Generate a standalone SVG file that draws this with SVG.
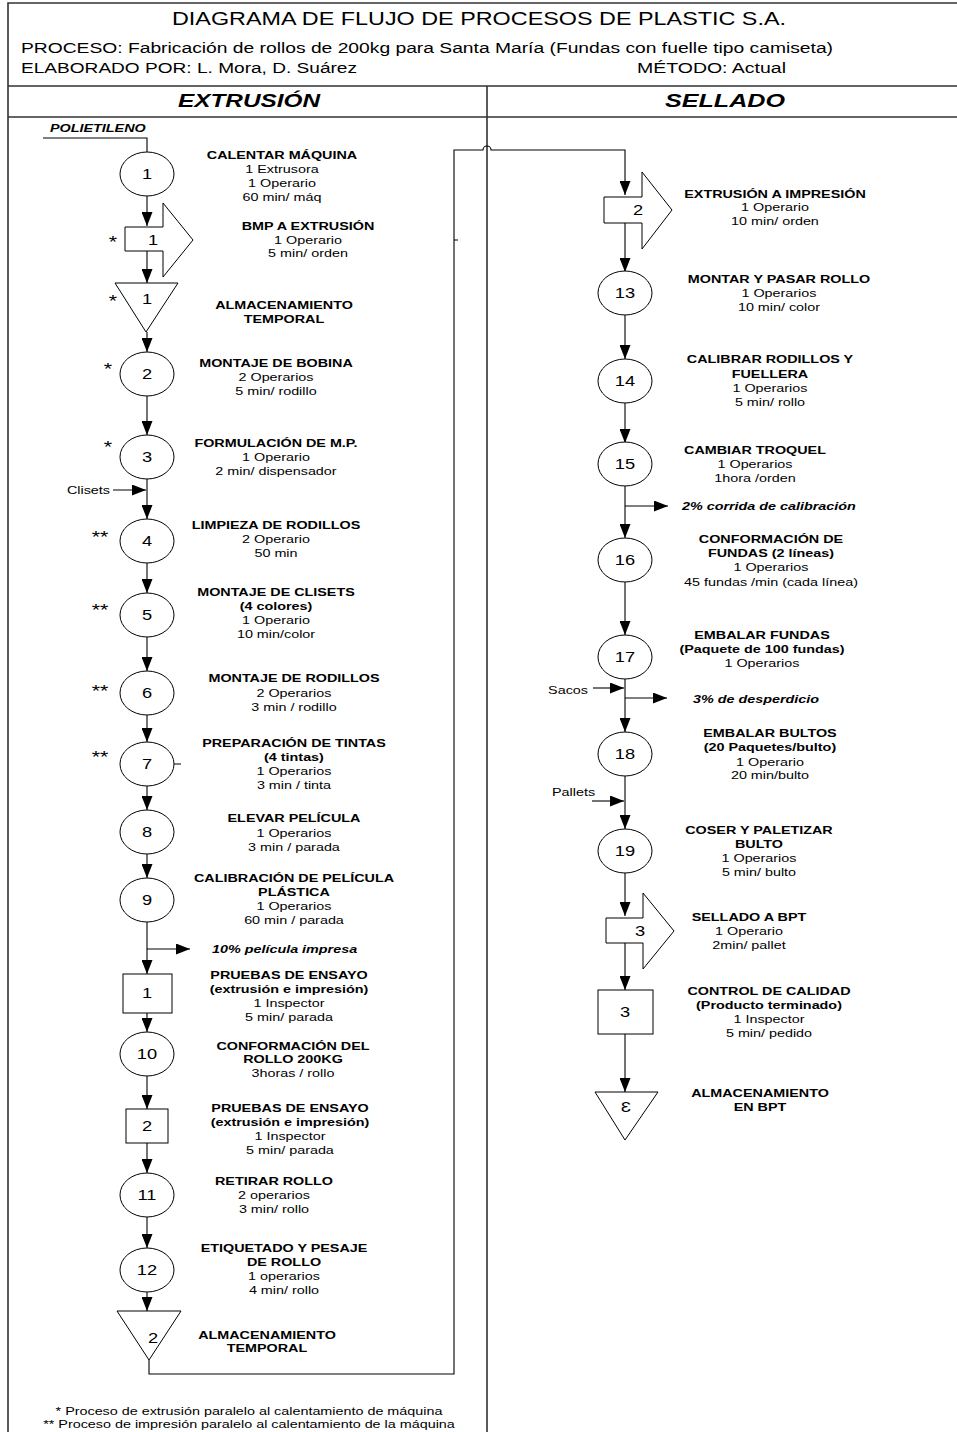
<svg xmlns="http://www.w3.org/2000/svg" width="957" height="1432" viewBox="0 0 957 1432">
<style>
.s{fill:#fff;stroke:#000;stroke-width:1}
.c{fill:none;stroke:#000;stroke-width:1.1}
.f{fill:none;stroke:#333;stroke-width:1.6}
text{font-family:"Liberation Sans",Arial,sans-serif;fill:#000}
.b{font-size:11.4px;font-weight:bold;text-anchor:middle}
.r{font-size:11.4px;text-anchor:middle}
.n{font-size:14.5px;text-anchor:middle}
.bi{font-size:11.4px;font-weight:bold;font-style:italic}
.a{font-size:17px;text-anchor:middle}
.sm{font-size:11.4px}
</style>
<defs>
<marker id="ah" markerUnits="userSpaceOnUse" markerWidth="14" markerHeight="11" refX="14" refY="5.5" orient="auto">
<path d="M0,0 L14,5.5 L0,11 z" fill="#000"/>
</marker>
</defs>
<rect width="957" height="1432" fill="#fff"/>
<g id="frame">
<path class="f" d="M8,1432 V3 H960 M8,86 H960 M8,117 H960 M487,86 V1432"/>
<text x="172" y="25" font-size="18.5" textLength="614" lengthAdjust="spacingAndGlyphs">DIAGRAMA DE FLUJO DE PROCESOS DE PLASTIC S.A.</text>
<text x="21" y="53" font-size="14" textLength="812" lengthAdjust="spacingAndGlyphs">PROCESO: Fabricación de rollos de 200kg para Santa María (Fundas con fuelle tipo camiseta)</text>
<text x="21" y="73" font-size="14" textLength="336" lengthAdjust="spacingAndGlyphs">ELABORADO POR: L. Mora, D. Suárez</text>
<text x="637" y="73" font-size="14" textLength="149" lengthAdjust="spacingAndGlyphs">MÉTODO: Actual</text>
<text x="178" y="107" font-size="18.5" font-weight="bold" font-style="italic" textLength="142" lengthAdjust="spacingAndGlyphs">EXTRUSIÓN</text>
<text x="665" y="107" font-size="18.5" font-weight="bold" font-style="italic" textLength="120" lengthAdjust="spacingAndGlyphs">SELLADO</text>
</g>
<g id="connectors" class="c">
<path d="M43,138 H147 V152"/>
<path d="M147,196 V226" marker-end="url(#ah)"/>
<path d="M147,251 V283" marker-end="url(#ah)"/>
<path d="M147,332 V352" marker-end="url(#ah)"/>
<path d="M147,396 V435" marker-end="url(#ah)"/>
<path d="M147,479 V519" marker-end="url(#ah)"/>
<path d="M113,490 H146" marker-end="url(#ah)"/>
<path d="M147,563 V593" marker-end="url(#ah)"/>
<path d="M147,637 V671" marker-end="url(#ah)"/>
<path d="M147,715 V742" marker-end="url(#ah)"/>
<path d="M147,786 V810" marker-end="url(#ah)"/>
<path d="M147,854 V878" marker-end="url(#ah)"/>
<path d="M147,922 V974" marker-end="url(#ah)"/>
<path d="M147,949 H190" marker-end="url(#ah)"/>
<path d="M147,1013 V1032" marker-end="url(#ah)"/>
<path d="M147,1076 V1109" marker-end="url(#ah)"/>
<path d="M147,1143 V1173" marker-end="url(#ah)"/>
<path d="M147,1217 V1248" marker-end="url(#ah)"/>
<path d="M147,1292 V1311" marker-end="url(#ah)"/>
<path d="M149,1360 V1374 H454 V150 H483 A4,4 0 0 1 491,150 H625 V195" marker-end="url(#ah)"/>
<path d="M174,764 H181 M454,240 H458"/>
<path d="M625,223 V272" marker-end="url(#ah)"/>
<path d="M625,315 V359" marker-end="url(#ah)"/>
<path d="M625,403 V443" marker-end="url(#ah)"/>
<path d="M625,486 V538" marker-end="url(#ah)"/>
<path d="M625,506 H668" marker-end="url(#ah)"/>
<path d="M625,582 V635" marker-end="url(#ah)"/>
<path d="M625,679 V732" marker-end="url(#ah)"/>
<path d="M593,688 H624" marker-end="url(#ah)"/>
<path d="M625,698 H667" marker-end="url(#ah)"/>
<path d="M625,776 V829" marker-end="url(#ah)"/>
<path d="M592,801 H624" marker-end="url(#ah)"/>
<path d="M625,873 V916" marker-end="url(#ah)"/>
<path d="M625,943 V990" marker-end="url(#ah)"/>
<path d="M625,1034 V1092" marker-end="url(#ah)"/>
</g>
<g id="side-labels" transform="scale(1.26 1)">
<text class="bi" x="39.7" y="132">POLIETILENO</text>
<text class="sm" x="87.3" y="494" text-anchor="end">Clisets</text>
<text class="bi" x="168.25" y="953">10% película impresa</text>
<text class="bi" x="541.27" y="510">2% corrida de calibración</text>
<text class="sm" x="466.67" y="694" text-anchor="end">Sacos</text>
<text class="bi" x="550" y="703">3% de desperdicio</text>
<text class="sm" x="438.1" y="796">Pallets</text>
<text class="a" x="89.68" y="248">*</text>
<text class="a" x="89.68" y="307">*</text>
<text class="a" x="85.71" y="375">*</text>
<text class="a" x="85.71" y="453">*</text>
<text class="a" x="79.37" y="543">**</text>
<text class="a" x="79.37" y="616">**</text>
<text class="a" x="79.37" y="697">**</text>
<text class="a" x="79.37" y="763">**</text>
<text class="r" x="197.62" y="1415">* Proceso de extrusión paralelo al calentamiento de máquina</text>
<text class="r" x="197.62" y="1428">** Proceso de impresión paralelo al calentamiento de la máquina</text>
</g>
<g id="n1"><ellipse class="s" cx="147" cy="174" rx="27" ry="22"/>
<g transform="scale(1.26 1)"><text class="n" x="116.67" y="179">1</text>
<text class="b" x="223.81" y="159">CALENTAR MÁQUINA</text><text class="r" x="223.81" y="173">1 Extrusora</text><text class="r" x="223.81" y="187">1 Operario</text><text class="r" x="223.81" y="201">60 min/ máq</text></g></g>
<g id="t1"><polygon class="s" points="125,227 163,227 163,203 193,240 163,277 163,251 125,251"/>
<g transform="scale(1.26 1)"><text class="n" x="121.43" y="245">1</text>
<text class="b" x="244.44" y="230">BMP A EXTRUSIÓN</text><text class="r" x="244.44" y="244">1 Operario</text><text class="r" x="244.44" y="257">5 min/ orden</text></g></g>
<g id="s1"><polygon class="s" points="115,283 178,283 146,332"/>
<g transform="scale(1.26 1)"><text class="n" x="116.67" y="304">1</text>
<text class="b" x="225.4" y="309">ALMACENAMIENTO</text><text class="b" x="225.4" y="323">TEMPORAL</text></g></g>
<g id="n2"><ellipse class="s" cx="147" cy="374" rx="27" ry="22"/>
<g transform="scale(1.26 1)"><text class="n" x="116.67" y="379">2</text>
<text class="b" x="219.05" y="367">MONTAJE DE BOBINA</text><text class="r" x="219.05" y="381">2 Operarios</text><text class="r" x="219.05" y="395">5  min/ rodillo</text></g></g>
<g id="n3"><ellipse class="s" cx="147" cy="457" rx="27" ry="22"/>
<g transform="scale(1.26 1)"><text class="n" x="116.67" y="462">3</text>
<text class="b" x="219.05" y="447">FORMULACIÓN DE M.P.</text><text class="r" x="219.05" y="461">1 Operario</text><text class="r" x="219.05" y="475">2 min/ dispensador</text></g></g>
<g id="n4"><ellipse class="s" cx="147" cy="541" rx="27" ry="22"/>
<g transform="scale(1.26 1)"><text class="n" x="116.67" y="546">4</text>
<text class="b" x="219.05" y="529">LIMPIEZA DE RODILLOS</text><text class="r" x="219.05" y="543">2 Operario</text><text class="r" x="219.05" y="557">50 min</text></g></g>
<g id="n5"><ellipse class="s" cx="147" cy="615" rx="27" ry="22"/>
<g transform="scale(1.26 1)"><text class="n" x="116.67" y="620">5</text>
<text class="b" x="219.05" y="596">MONTAJE DE CLISETS</text><text class="b" x="219.05" y="610">(4 colores)</text><text class="r" x="219.05" y="624">1 Operario</text><text class="r" x="219.05" y="638">10 min/color</text></g></g>
<g id="n6"><ellipse class="s" cx="147" cy="693" rx="27" ry="22"/>
<g transform="scale(1.26 1)"><text class="n" x="116.67" y="698">6</text>
<text class="b" x="233.33" y="682">MONTAJE DE RODILLOS</text><text class="r" x="233.33" y="697">2 Operarios</text><text class="r" x="233.33" y="711">3 min / rodillo</text></g></g>
<g id="n7"><ellipse class="s" cx="147" cy="764" rx="27" ry="22"/>
<g transform="scale(1.26 1)"><text class="n" x="116.67" y="769">7</text>
<text class="b" x="233.33" y="747">PREPARACIÓN DE TINTAS</text><text class="b" x="233.33" y="761">(4 tintas)</text><text class="r" x="233.33" y="775">1 Operarios</text><text class="r" x="233.33" y="789">3 min / tinta</text></g></g>
<g id="n8"><ellipse class="s" cx="147" cy="832" rx="27" ry="22"/>
<g transform="scale(1.26 1)"><text class="n" x="116.67" y="837">8</text>
<text class="b" x="233.33" y="822">ELEVAR PELÍCULA</text><text class="r" x="233.33" y="837">1 Operarios</text><text class="r" x="233.33" y="851">3 min / parada</text></g></g>
<g id="n9"><ellipse class="s" cx="147" cy="900" rx="27" ry="22"/>
<g transform="scale(1.26 1)"><text class="n" x="116.67" y="905">9</text>
<text class="b" x="233.33" y="882">CALIBRACIÓN DE PELÍCULA</text><text class="b" x="233.33" y="896">PLÁSTICA</text><text class="r" x="233.33" y="910">1 Operarios</text><text class="r" x="233.33" y="924">60 min / parada</text></g></g>
<g id="q1"><rect class="s" x="123" y="974" width="49" height="39"/>
<g transform="scale(1.26 1)"><text class="n" x="116.67" y="998">1</text>
<text class="b" x="229.37" y="979">PRUEBAS DE ENSAYO</text><text class="b" x="229.37" y="993">(extrusión e impresión)</text><text class="r" x="229.37" y="1007">1 Inspector</text><text class="r" x="229.37" y="1021">5 min/ parada</text></g></g>
<g id="n10"><ellipse class="s" cx="147" cy="1054" rx="27" ry="22"/>
<g transform="scale(1.26 1)"><text class="n" x="116.67" y="1059">10</text>
<text class="b" x="232.54" y="1050">CONFORMACIÓN DEL</text><text class="b" x="232.54" y="1063">ROLLO 200KG</text><text class="r" x="232.54" y="1077">3horas / rollo</text></g></g>
<g id="q2"><rect class="s" x="126" y="1109" width="42" height="34"/>
<g transform="scale(1.26 1)"><text class="n" x="116.67" y="1131">2</text>
<text class="b" x="230.16" y="1112">PRUEBAS DE ENSAYO</text><text class="b" x="230.16" y="1126">(extrusión e impresión)</text><text class="r" x="230.16" y="1140">1 Inspector</text><text class="r" x="230.16" y="1154">5 min/ parada</text></g></g>
<g id="n11"><ellipse class="s" cx="147" cy="1195" rx="27" ry="22"/>
<g transform="scale(1.26 1)"><text class="n" x="116.67" y="1200">11</text>
<text class="b" x="217.46" y="1185">RETIRAR ROLLO</text><text class="r" x="217.46" y="1199">2 operarios</text><text class="r" x="217.46" y="1213">3 min/ rollo</text></g></g>
<g id="n12"><ellipse class="s" cx="147" cy="1270" rx="27" ry="22"/>
<g transform="scale(1.26 1)"><text class="n" x="116.67" y="1275">12</text>
<text class="b" x="225.4" y="1252">ETIQUETADO Y PESAJE</text><text class="b" x="225.4" y="1266">DE ROLLO</text><text class="r" x="225.4" y="1280">1 operarios</text><text class="r" x="225.4" y="1294">4 min/ rollo</text></g></g>
<g id="s2"><polygon class="s" points="117,1311 181,1311 149,1360"/>
<g transform="scale(1.26 1)"><text class="n" x="121.43" y="1343">2</text>
<text class="b" x="211.9" y="1339">ALMACENAMIENTO</text><text class="b" x="211.9" y="1352">TEMPORAL</text></g></g>
<g id="t2"><polygon class="s" points="604,197 642,197 642,172 672,210 642,249 642,223 604,223"/>
<g transform="scale(1.26 1)"><text class="n" x="506.35" y="215">2</text>
<text class="b" x="615.08" y="198">EXTRUSIÓN A IMPRESIÓN</text><text class="r" x="615.08" y="211">1 Operario</text><text class="r" x="615.08" y="225">10 min/ orden</text></g></g>
<g id="n13"><ellipse class="s" cx="625" cy="293" rx="27" ry="22"/>
<g transform="scale(1.26 1)"><text class="n" x="496.03" y="298">13</text>
<text class="b" x="618.25" y="283">MONTAR Y PASAR ROLLO</text><text class="r" x="618.25" y="297">1 Operarios</text><text class="r" x="618.25" y="311">10  min/ color</text></g></g>
<g id="n14"><ellipse class="s" cx="625" cy="381" rx="27" ry="22"/>
<g transform="scale(1.26 1)"><text class="n" x="496.03" y="386">14</text>
<text class="b" x="611.11" y="363">CALIBRAR RODILLOS Y</text><text class="b" x="611.11" y="378">FUELLERA</text><text class="r" x="611.11" y="392">1 Operarios</text><text class="r" x="611.11" y="406">5  min/ rollo</text></g></g>
<g id="n15"><ellipse class="s" cx="625" cy="464" rx="27" ry="22"/>
<g transform="scale(1.26 1)"><text class="n" x="496.03" y="469">15</text>
<text class="b" x="599.21" y="454">CAMBIAR TROQUEL</text><text class="r" x="599.21" y="468">1 Operarios</text><text class="r" x="599.21" y="482">1hora /orden</text></g></g>
<g id="n16"><ellipse class="s" cx="625" cy="560" rx="27" ry="22"/>
<g transform="scale(1.26 1)"><text class="n" x="496.03" y="565">16</text>
<text class="b" x="611.9" y="543">CONFORMACIÓN DE</text><text class="b" x="611.9" y="557">FUNDAS (2 líneas)</text><text class="r" x="611.9" y="571">1 Operarios</text><text class="r" x="611.9" y="586">45 fundas /min (cada línea)</text></g></g>
<g id="n17"><ellipse class="s" cx="625" cy="657" rx="27" ry="22"/>
<g transform="scale(1.26 1)"><text class="n" x="496.03" y="662">17</text>
<text class="b" x="604.76" y="639">EMBALAR FUNDAS</text><text class="b" x="604.76" y="653">(Paquete de 100 fundas)</text><text class="r" x="604.76" y="667">1 Operarios</text></g></g>
<g id="n18"><ellipse class="s" cx="625" cy="754" rx="27" ry="22"/>
<g transform="scale(1.26 1)"><text class="n" x="496.03" y="759">18</text>
<text class="b" x="611.11" y="737">EMBALAR BULTOS</text><text class="b" x="611.11" y="751">(20 Paquetes/bulto)</text><text class="r" x="611.11" y="766">1 Operario</text><text class="r" x="611.11" y="779">20 min/bulto</text></g></g>
<g id="n19"><ellipse class="s" cx="625" cy="851" rx="27" ry="22"/>
<g transform="scale(1.26 1)"><text class="n" x="496.03" y="856">19</text>
<text class="b" x="602.38" y="834">COSER Y PALETIZAR</text><text class="b" x="602.38" y="848">BULTO</text><text class="r" x="602.38" y="862">1 Operarios</text><text class="r" x="602.38" y="876">5 min/ bulto</text></g></g>
<g id="t3"><polygon class="s" points="606,918 643,918 643,893 674,931 643,969 643,943 606,943"/>
<g transform="scale(1.26 1)"><text class="n" x="507.94" y="936">3</text>
<text class="b" x="594.44" y="921">SELLADO A BPT</text><text class="r" x="594.44" y="935">1 Operario</text><text class="r" x="594.44" y="949">2min/ pallet</text></g></g>
<g id="q3"><rect class="s" x="598" y="990" width="55" height="44"/>
<g transform="scale(1.26 1)"><text class="n" x="496.03" y="1017">3</text>
<text class="b" x="610.32" y="995">CONTROL DE CALIDAD</text><text class="b" x="610.32" y="1009">(Producto terminado)</text><text class="r" x="610.32" y="1023">1 Inspector</text><text class="r" x="610.32" y="1037">5 min/ pedido</text></g></g>
<g id="s3"><polygon class="s" points="595,1092 658,1092 625,1140"/>
<text class="n" transform="translate(626 1112) scale(-1.26 1)" x="0" y="0">3</text>
<g transform="scale(1.26 1)"><text class="b" x="603.17" y="1097">ALMACENAMIENTO</text><text class="b" x="603.17" y="1111">EN BPT</text></g></g>
</svg>
